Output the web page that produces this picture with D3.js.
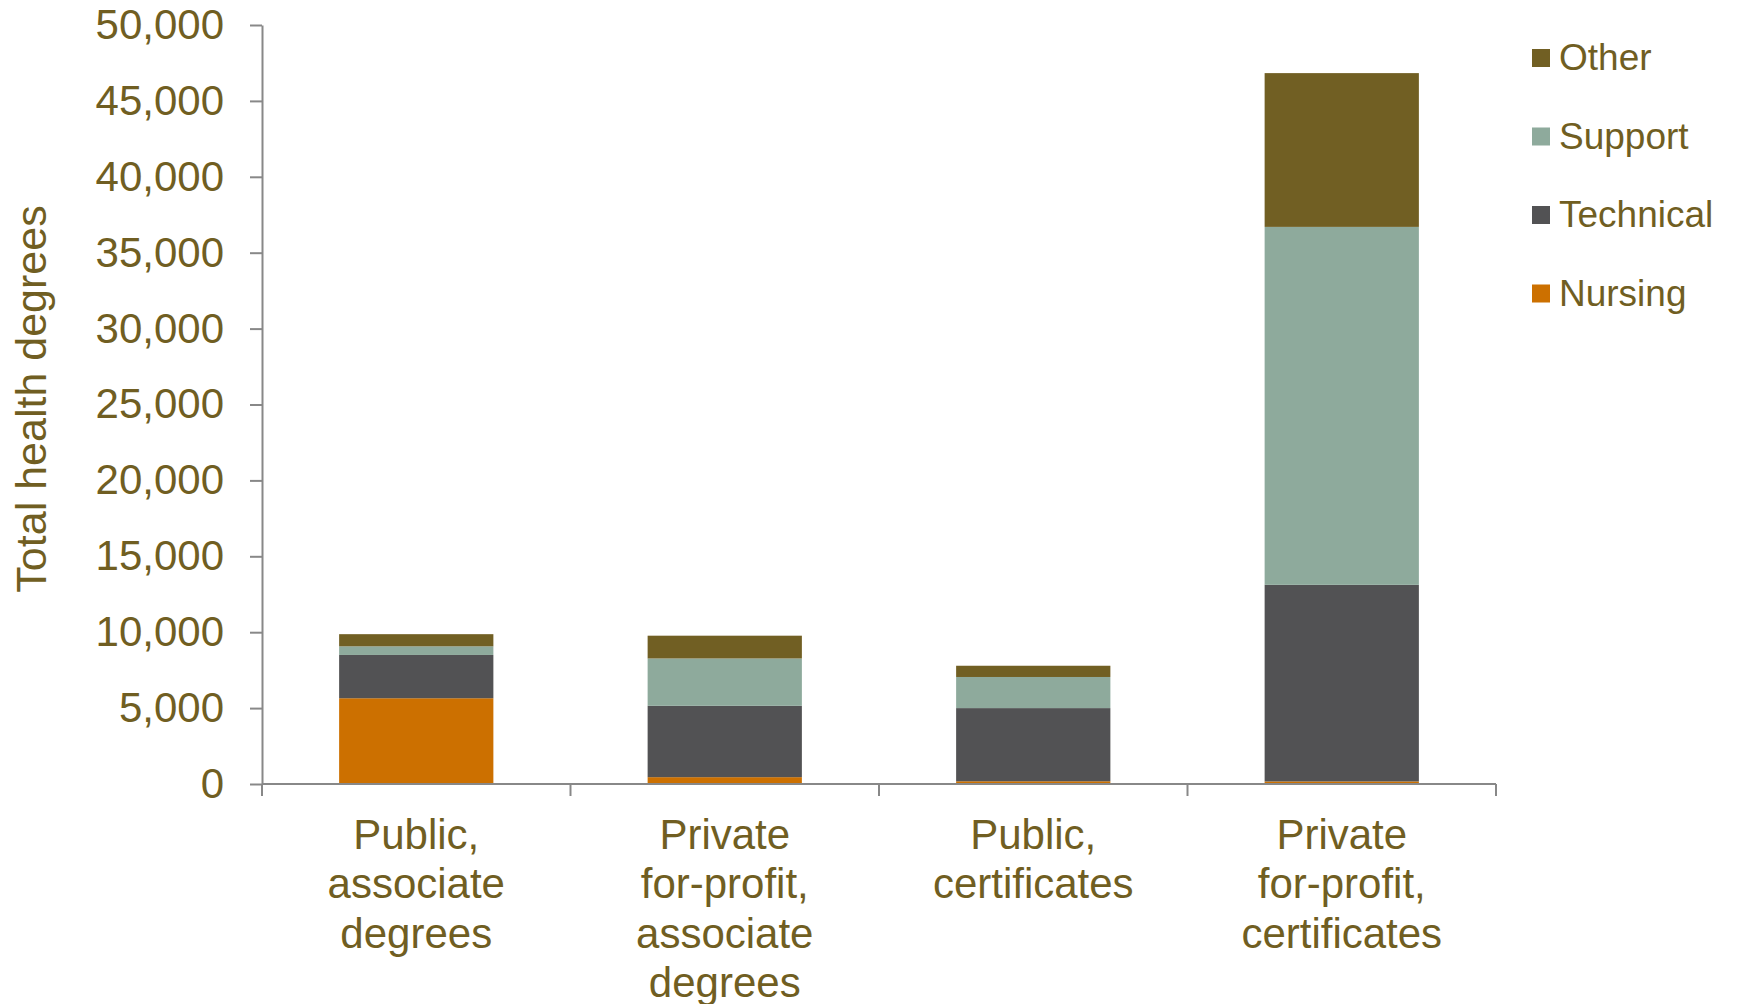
<!DOCTYPE html>
<html>
<head>
<meta charset="utf-8">
<script src="https://cdn.jsdelivr.net/npm/d3@7"></script>
<style>
  body { margin: 0; background: #fff; }
  text { font-family: "Liberation Sans", Arial, sans-serif; fill: #705e22; }
</style>
</head>
<body>
<svg width="1738" height="1004"></svg>
<script>
var categories = [
  ["Public,", "associate", "degrees"],
  ["Private", "for-profit,", "associate", "degrees"],
  ["Public,", "certificates"],
  ["Private", "for-profit,", "certificates"]
];
var seriesNames = ["Nursing", "Technical", "Support", "Other"];
var nursing   = [5650, 450, 180, 170];
var technical = [2850, 4700, 4820, 12950];
var support   = [570, 3120, 2050, 23580];
var other     = [800, 1500, 740, 10130];
var yTicks = [0, 5000, 10000, 15000, 20000, 25000, 30000, 35000, 40000, 45000, 50000];
var colors = ["#cc7000", "#525254", "#8eaa9c", "#715f23"];

var svg = d3.select("svg");
var ink = "#705e22", axisGray = "#888888";

// rows for the stack
var rows = categories.map(function(c, i) {
  return { key: i, Nursing: nursing[i], Technical: technical[i], Support: support[i], Other: other[i] };
});
var stacked = d3.stack().keys(seriesNames)(rows);

var x = d3.scaleBand()
  .domain(d3.range(categories.length))
  .range([262, 1496])
  .paddingInner(0.5)
  .paddingOuter(0.25);
var y = d3.scaleLinear().domain([0, 50000]).range([784, 25]);

// bars
svg.append("g").selectAll("g")
  .data(stacked)
  .join("g")
  .attr("fill", function(d, i) { return colors[i]; })
  .selectAll("rect")
  .data(function(d) { return d; })
  .join("rect")
  .attr("x", function(d) { return x(d.data.key); })
  .attr("width", x.bandwidth())
  .attr("y", function(d) { return y(d[1]); })
  .attr("height", function(d) { return y(d[0]) - y(d[1]); });

// y axis
var yAxis = svg.append("g")
  .attr("transform", "translate(262,0)")
  .call(d3.axisLeft(y).tickValues(yTicks).tickFormat(d3.format(",")).tickSize(12).tickSizeOuter(0).tickPadding(26));
yAxis.select(".domain").attr("stroke", axisGray).attr("stroke-width", 2);
yAxis.selectAll(".tick line").attr("stroke", axisGray).attr("stroke-width", 2);
yAxis.selectAll(".tick text").attr("font-size", 42).attr("fill", ink)
  .attr("font-family", "Liberation Sans, Arial, sans-serif");

// x axis: baseline + separators between categories
var xa = svg.append("g");
xa.append("line")
  .attr("x1", x.range()[0]).attr("x2", x.range()[1])
  .attr("y1", y(0)).attr("y2", y(0))
  .attr("stroke", axisGray).attr("stroke-width", 2);
var step = x.step();
var seps = d3.range(categories.length + 1).map(function(i) { return x.range()[0] + i * step; });
xa.selectAll("line.sep")
  .data(seps)
  .join("line")
  .attr("class", "sep")
  .attr("x1", function(d) { return d; }).attr("x2", function(d) { return d; })
  .attr("y1", y(0)).attr("y2", y(0) + 12)
  .attr("stroke", axisGray).attr("stroke-width", 2);

// category labels
xa.selectAll("text.cat")
  .data(categories)
  .join("text")
  .attr("class", "cat")
  .attr("text-anchor", "middle")
  .attr("font-size", 42)
  .attr("transform", function(d, i) { return "translate(" + (x(i) + x.bandwidth() / 2) + ",849)"; })
  .selectAll("tspan")
  .data(function(d) { return d; })
  .join("tspan")
  .attr("x", 0)
  .attr("y", function(d, j) { return j * 49.3; })
  .text(function(d) { return d; });

// y title
svg.append("text")
  .attr("transform", "translate(46,399) rotate(-90)")
  .attr("text-anchor", "middle")
  .attr("font-size", 43)
  .text("Total health degrees");

// legend (top = Other)
var legendOrder = seriesNames.slice().reverse();
var lg = svg.append("g").selectAll("g")
  .data(legendOrder)
  .join("g")
  .attr("transform", function(d, i) { return "translate(1532," + (58 + i * 78.5) + ")"; });
lg.append("rect")
  .attr("x", 0).attr("y", -9).attr("width", 18).attr("height", 18)
  .attr("fill", function(d) { return colors[seriesNames.indexOf(d)]; });
lg.append("text")
  .attr("x", 27).attr("y", 12)
  .attr("font-size", 37)
  .text(function(d) { return d; });
</script>
</body>
</html>
